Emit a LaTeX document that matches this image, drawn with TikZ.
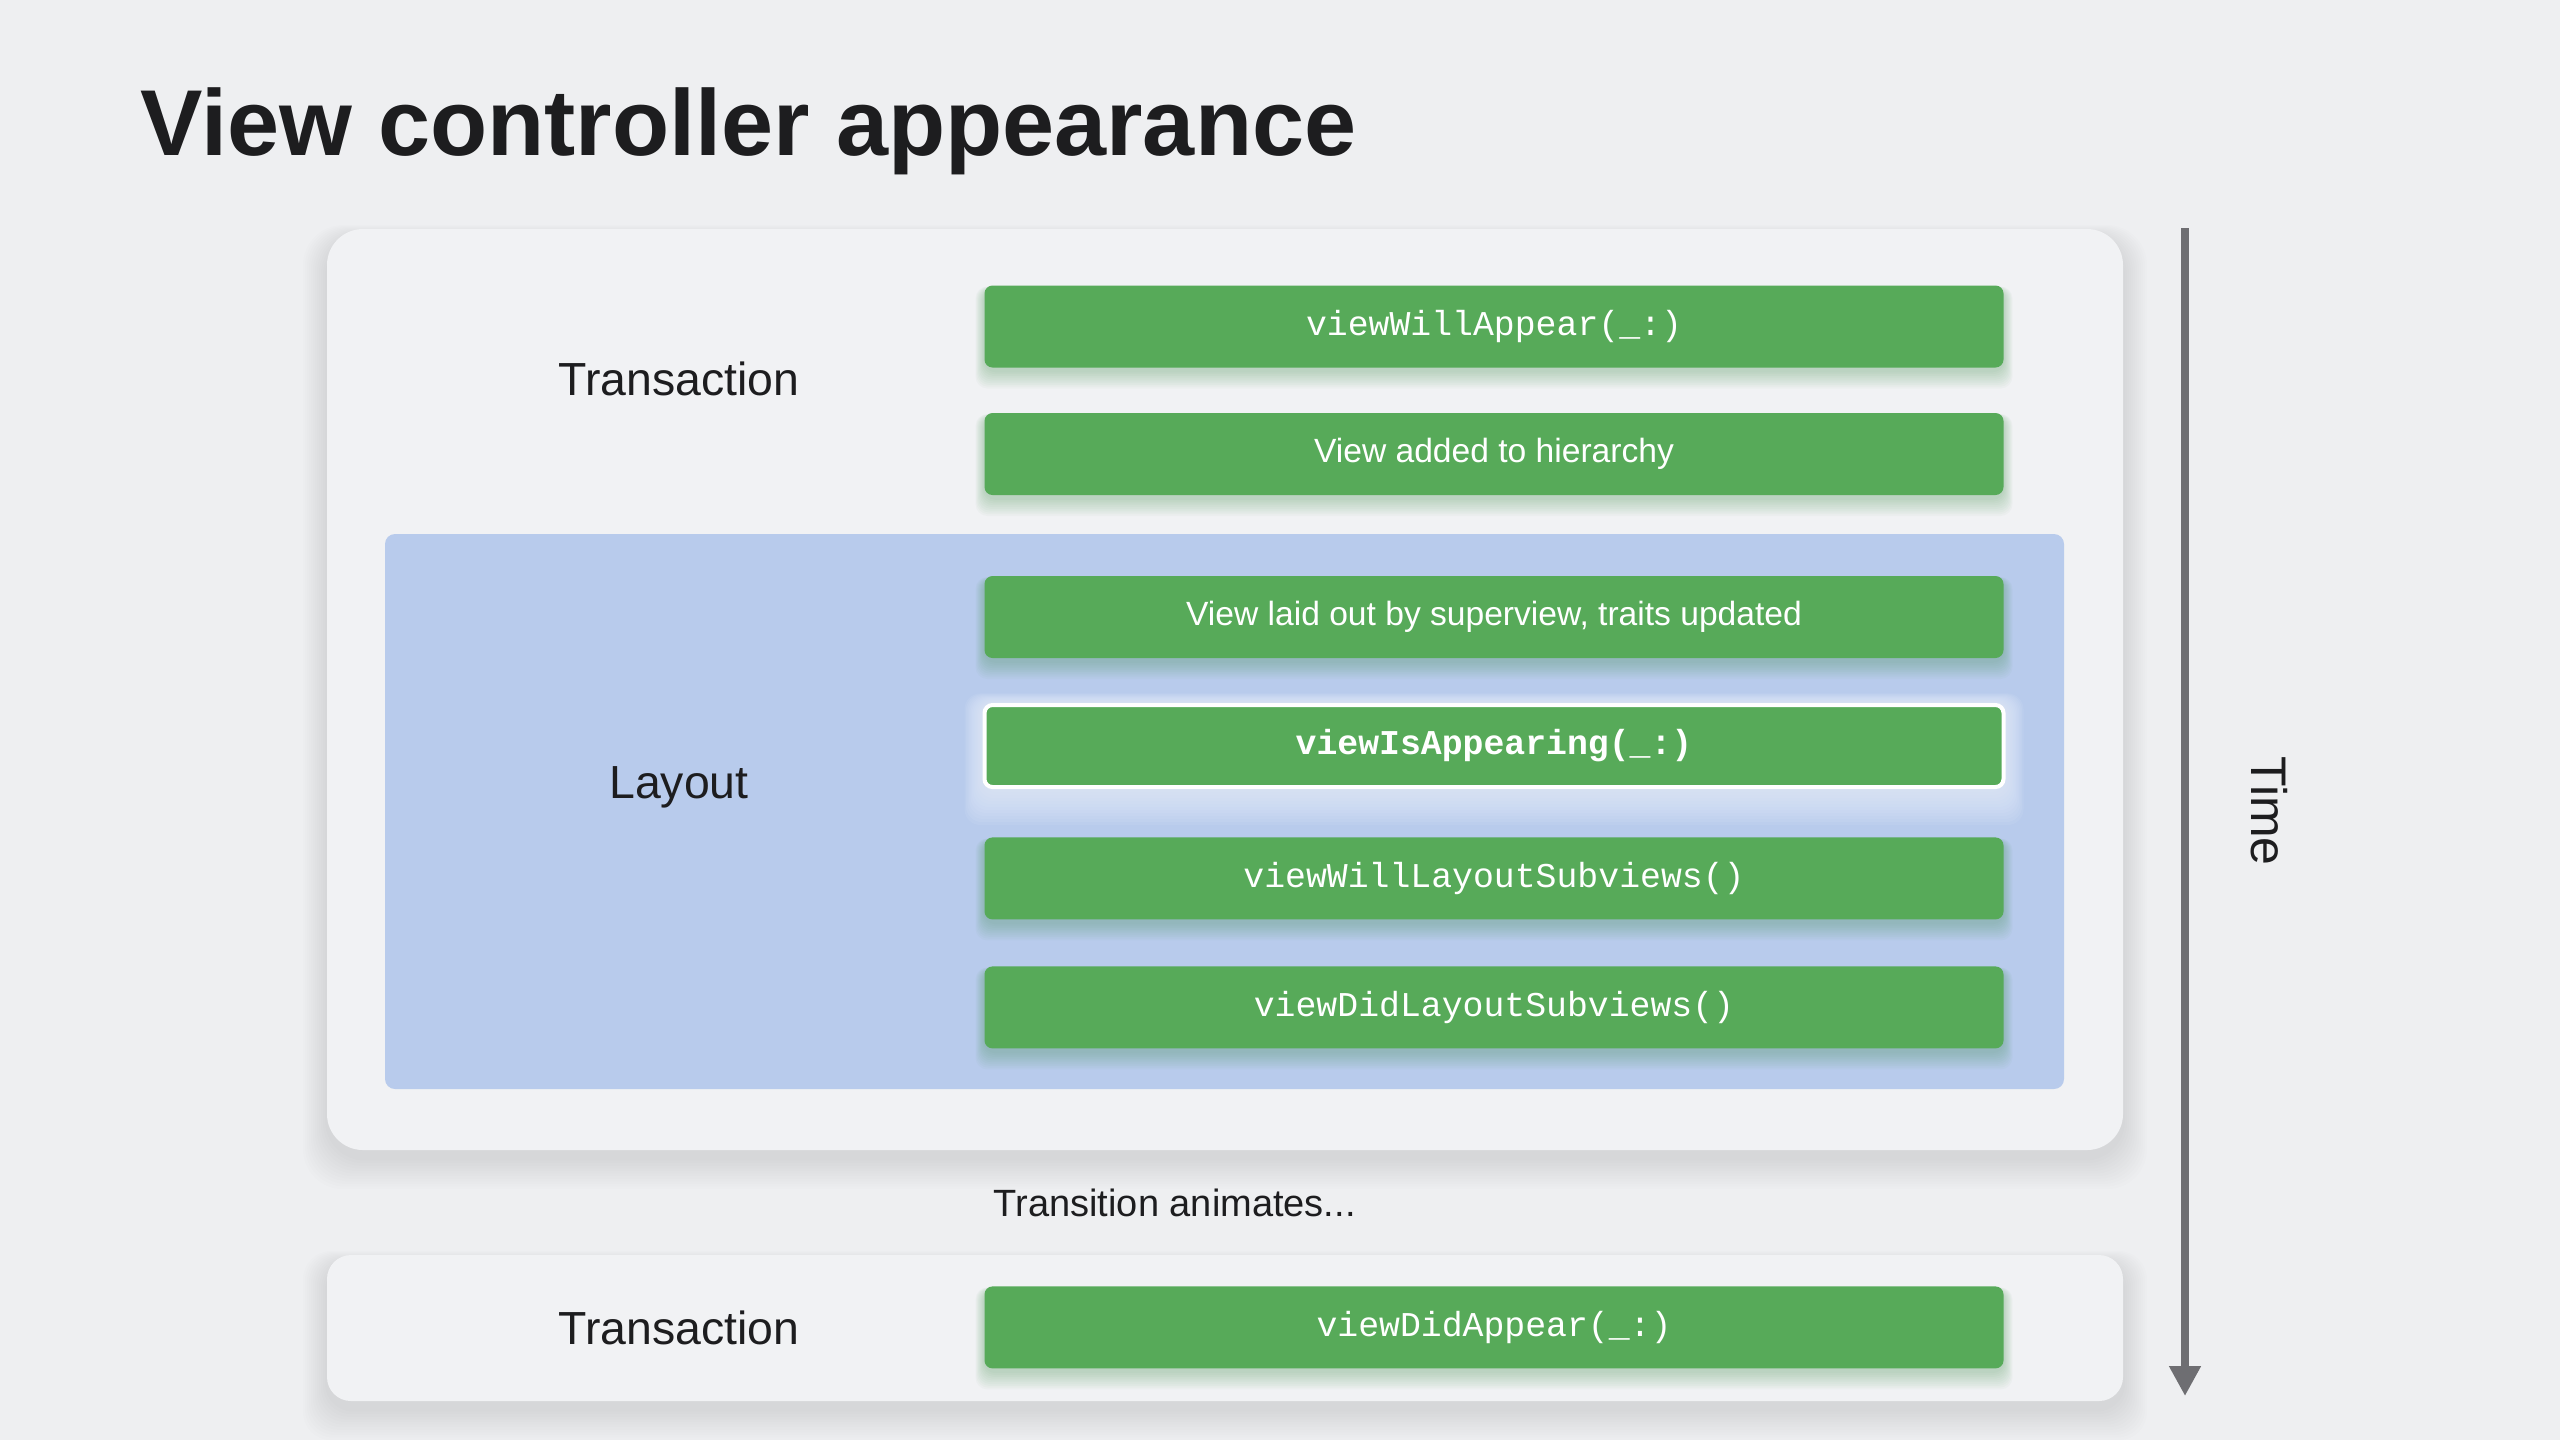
\documentclass[tikz,border=0pt]{standalone}
\usepackage{fontspec}
\setmainfont{Liberation Sans}
\setmonofont{Liberation Mono}
\usetikzlibrary{arrows.meta}
\definecolor{bg}{HTML}{EEEFF1}
\definecolor{card}{HTML}{F1F2F4}
\definecolor{layoutblue}{HTML}{B8CBEC}
\definecolor{boxgreen}{HTML}{57AA59}
\definecolor{ink}{HTML}{1D1D1F}
\definecolor{arrowgray}{HTML}{6E6E72}
\definecolor{glowblue}{HTML}{E6EDFB}
\definecolor{greenshade}{HTML}{3F8F4A}
% soft glow below a box: centre x, centre y, half width, half height, colour, opacity (px)
\newcommand\boxglow[6]{%
  \foreach \k in {1,...,10} {%
    \fill[#5, opacity=#6, rounded corners=3pt]
      (#1-#3-\k*0.9, #2-#4-\k*0.2+3) rectangle (#1+#3+\k*0.9, #2+#4+\k*1.8+3);
  }%
}
% soft shadow below a card: x1, y1, x2, y2 (px), corner radius
\newcommand\cardshadow[5]{%
  \foreach \k in {1,...,12} {%
    \fill[black, opacity=0.009, rounded corners=#5]
      (#1-\k*2, #2-\k*1+8) rectangle (#3+\k*2, #4+\k*2.6+8);
  }%
}
\tikzset{
  cardbox/.style={fill=card, inner sep=0pt, outer sep=0pt},
  layoutbox/.style={fill=layoutblue, inner sep=0pt, outer sep=0pt, rounded corners=2.5pt,
    minimum width=419.75pt, minimum height=138.75pt},
  stepbox/.style={fill=boxgreen, text=white, inner sep=0pt, outer sep=0pt, rounded corners=2pt,
    minimum width=254.75pt, minimum height=20.5pt},
  keybox/.style={stepbox, draw=white, line width=1pt},
  monotxt/.style={font=\ttfamily\fontsize{8.7pt}{10pt}\selectfont},
  sanstxt/.style={font=\fontsize{8.4pt}{10pt}\selectfont},
  grouplabel/.style={text=ink, font=\fontsize{11.6pt}{13pt}\selectfont, inner sep=0pt},
}
\begin{document}
\begin{tikzpicture}[x=0.25pt,y=-0.25pt]
\fill[bg] (0,0) rectangle (2560,1440);
\useasboundingbox (0,0) rectangle (2560,1440);

\node[anchor=base west, text=ink, inner sep=0pt, font=\bfseries\fontsize{23.4pt}{26pt}\selectfont] (title) at (140,155) {View controller appearance};

% cards
\cardshadow{327}{229}{2123}{1150}{10pt}
\cardshadow{327}{1255}{2123}{1401}{7pt}
\node[cardbox, rounded corners=9pt, minimum width=449pt, minimum height=230.25pt] (card1) at (1225,689.5) {};
\node[cardbox, rounded corners=6pt, minimum width=449pt, minimum height=36.5pt] (card2) at (1225,1328) {};
\node[layoutbox] (layout) at (1224.5,811.5) {};

% labels
\node[grouplabel] (trans1) at (679,379) {Transaction};
\node[grouplabel] (lay) at (679,787) {Layout};
\node[grouplabel] (trans2) at (679,1327.5) {Transaction};
\node[anchor=west, text=ink, inner sep=0pt, font=\fontsize{9.5pt}{11pt}\selectfont] (anim) at (993,1203) {Transition animates...};

% glows under the steps
\boxglow{1494}{326.5}{509.5}{41}{greenshade}{0.03}
\boxglow{1494}{454}{509.5}{41}{greenshade}{0.03}
\boxglow{1494}{617}{509.5}{41}{greenshade}{0.03}
\foreach \k in {1,...,12} {%
  \fill[glowblue, opacity=0.1, rounded corners=4pt]
    (1494-511.5-\k*1.5, 746-43-\k*0.8) rectangle (1494+511.5+\k*1.5, 746+43+\k*3);
}
\boxglow{1494}{878.4}{509.5}{41}{greenshade}{0.03}
\boxglow{1494}{1007.4}{509.5}{41}{greenshade}{0.03}
\boxglow{1494}{1327.4}{509.5}{41}{greenshade}{0.03}

% steps
\node[stepbox, monotxt] (s1) at (1494,326.5) {viewWillAppear(\_:)};
\node[stepbox, sanstxt] (s2) at (1494,454) {View added to hierarchy};
\node[stepbox, sanstxt] (s3) at (1494,617) {View laid out by superview, traits updated};
\node[keybox, font=\ttfamily\bfseries\fontsize{8.7pt}{10pt}\selectfont] (s4) at (1494,746) {viewIsAppearing(\_:)};
\node[stepbox, monotxt] (s5) at (1494,878.4) {viewWillLayoutSubviews()};
\node[stepbox, monotxt] (s6) at (1494,1007.4) {viewDidLayoutSubviews()};
\node[stepbox, monotxt] (s7) at (1494,1327.4) {viewDidAppear(\_:)};

% time arrow
\coordinate (ttop) at (2185,228);
\coordinate (tbot) at (2185,1396);
\draw[arrowgray, line width=2pt, -{Triangle[width=7.5pt,length=7.5pt]}] (ttop) -- (tbot);
\node[rotate=-90, text=ink, inner sep=0pt, font=\fontsize{12.5pt}{14pt}\selectfont] (time) at (2269,811) {Time};
\end{tikzpicture}
\end{document}
